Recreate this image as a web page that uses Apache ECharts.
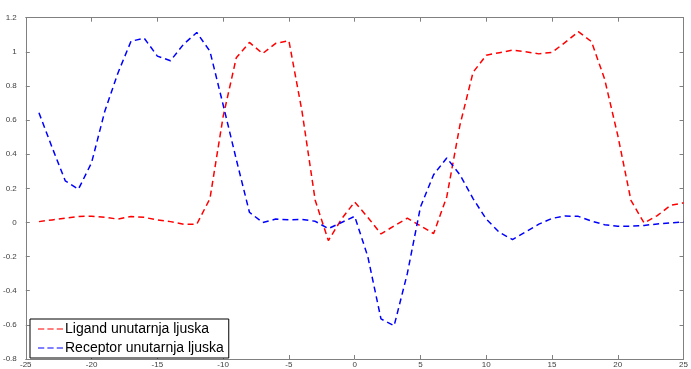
<!DOCTYPE html>
<html><head><meta charset="utf-8">
<script src="https://cdn.jsdelivr.net/npm/echarts@6/dist/echarts.min.js"></script>
<style>html,body{margin:0;padding:0;background:#fff}#c{width:691px;height:369px}</style>
</head><body><div id="c"></div>
<script>
const xValues = [-24,-23,-22,-21,-20,-19,-18,-17,-16,-15,-14,-13,-12,-11,-10,-9,-8,-7,-6,-5,-4,-3,-2,-1,0,1,2,3,4,5,6,7,8,9,10,11,12,13,14,15,16,17,18,19,20,21,22,23,24,25];
const ligand = [0.005,0.015,0.025,0.035,0.037,0.03,0.02,0.035,0.03,0.015,0.005,-0.01,-0.01,0.14,0.62,0.965,1.055,0.99,1.05,1.065,0.65,0.13,-0.106,0.02,0.12,0.03,-0.067,-0.02,0.025,-0.02,-0.065,0.15,0.57,0.88,0.98,0.995,1.01,1.0,0.988,0.997,1.055,1.118,1.06,0.84,0.51,0.13,-0.003,0.04,0.1,0.115];
const receptor = [0.643,0.44,0.244,0.195,0.35,0.65,0.875,1.062,1.08,0.975,0.948,1.045,1.113,1.003,0.69,0.37,0.06,0.0,0.02,0.016,0.018,0.007,-0.036,0.0,0.036,-0.2,-0.565,-0.605,-0.3,0.09,0.28,0.378,0.28,0.14,0.02,-0.058,-0.1,-0.055,-0.01,0.024,0.038,0.036,0.008,-0.013,-0.022,-0.022,-0.017,-0.009,-0.002,0.003];
const seriesNames = ['Ligand unutarnja ljuska','Receptor unutarnja ljuska'];
const xTicks = {min:-25,max:25,interval:5};
const yTicks = {min:-0.8,max:1.2,interval:0.2};

const chart = echarts.init(document.getElementById('c'), null, {renderer:'canvas'});
const axisColor = '#808080';
const lbl = {fontFamily:'Liberation Sans, Arial, sans-serif', fontSize:8, color:'#404040'};
function fmt(v){ return String(parseFloat(v.toFixed(1))); }
const baseX = {type:'value', min:xTicks.min, max:xTicks.max, interval:xTicks.interval,
  splitLine:{show:false}, axisLine:{show:true,onZero:false,lineStyle:{color:axisColor,width:1}},
  axisTick:{show:true,inside:true,length:4,lineStyle:{color:axisColor}}};
const baseY = {type:'value', min:yTicks.min, max:yTicks.max, interval:yTicks.interval,
  splitLine:{show:false}, axisLine:{show:true,onZero:false,lineStyle:{color:axisColor,width:1}},
  axisTick:{show:true,inside:true,length:4,lineStyle:{color:axisColor}}};
const mk = (arr)=> xValues.map((x,i)=>[x,arr[i]]);
chart.setOption({
  animation:false,
  backgroundColor:'#fff',
  grid:{left:25.5,right:3.5,top:17.7,bottom:8.5,containLabel:false},
  xAxis:[
    Object.assign({}, baseX, {position:'bottom', axisLabel:Object.assign({margin:2, formatter:v=>String(v)}, lbl)}),
    Object.assign({}, baseX, {position:'top', axisLabel:{show:false}})
  ],
  yAxis:[
    Object.assign({}, baseY, {position:'left', axisLabel:Object.assign({margin:9, formatter:fmt}, lbl)}),
    Object.assign({}, baseY, {position:'right', axisLabel:{show:false}})
  ],
  legend:{
    orient:'vertical', left:30, top:319,
    backgroundColor:'#fff', borderColor:'#000', borderWidth:1, borderRadius:0,
    padding:[3,5,3,8], itemGap:5, itemWidth:25, itemHeight:14,
    textStyle:{fontFamily:'Liberation Sans, Arial, sans-serif', fontSize:14, color:'#000', padding:[0,0,0,-3]},
    data:seriesNames.map(n=>({name:n, icon:'path://M0,0L6,0L6,1L0,1Z M9,0L15,0L15,1L9,1Z M18,0L24,0L24,1L18,1Z'}))
  },
  series:[
    {name:seriesNames[0], type:'line', data:mk(ligand), symbol:'none', xAxisIndex:0, yAxisIndex:0,
     lineStyle:{color:'#ff0000', width:1.5, type:[6,4]}, itemStyle:{color:'#ff0000'}},
    {name:seriesNames[1], type:'line', data:mk(receptor), symbol:'none', xAxisIndex:0, yAxisIndex:0,
     lineStyle:{color:'#0000ff', width:1.5, type:[6,4]}, itemStyle:{color:'#0000ff'}}
  ]
});
</script></body></html>
